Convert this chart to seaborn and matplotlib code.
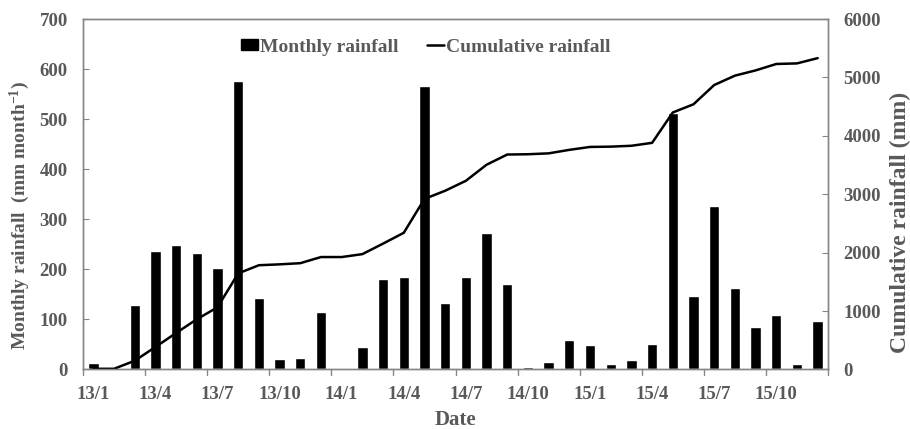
import matplotlib
matplotlib.use("Agg")
import matplotlib.pyplot as plt
import seaborn as sns
import numpy as np
import pandas as pd
from matplotlib.ticker import FixedLocator, MultipleLocator
from matplotlib.lines import Line2D
from matplotlib.patches import Patch

months = [f"{y}/{m}" for y in (13, 14, 15) for m in range(1, 13)]
monthly = [12, 0, 128, 236, 249, 233, 203, 576, 143, 20, 23, 115,
           0, 44, 180, 184, 567, 133, 185, 273, 171, 4, 14, 58,
           49, 10, 18, 50, 513, 147, 326, 163, 85, 108, 10, 96]
cumulative = [12, 12, 150, 385, 625, 860, 1065, 1645, 1785, 1800, 1820, 1925,
              1925, 1975, 2155, 2340, 2920, 3060, 3230, 3505, 3680, 3685, 3700, 3760,
              3810, 3815, 3830, 3880, 4400, 4540, 4870, 5030, 5120, 5230, 5240, 5330]
tick_labels = ["13/1", "13/4", "13/7", "13/10", "14/1", "14/4", "14/7",
               "14/10", "15/1", "15/4", "15/7", "15/10"]

sns.set_style("white")
plt.rcParams['font.family'] = ['Liberation Serif', 'DejaVu Serif']
plt.rcParams['font.weight'] = 'bold'
plt.rcParams['mathtext.fontset'] = 'custom'
plt.rcParams['mathtext.rm'] = 'Liberation Serif:bold'
plt.rcParams['mathtext.default'] = 'rm'

grey = "#595959"
spine_grey = "#868686"

df = pd.DataFrame({"month": months, "monthly": monthly,
                   "idx": np.arange(len(months)), "cum": cumulative})

fig = plt.figure(figsize=(9.1, 4.29), dpi=100)
ax = fig.add_axes([0.0912, 0.1387, 0.8187, 0.8170])
sns.barplot(data=df, x="month", y="monthly", color="black", width=0.5,
            saturation=1, ax=ax, order=months)
ax.set_xlim(-0.5, len(months) - 0.5)
ax.set_ylim(0, 700)
ax.yaxis.set_major_locator(MultipleLocator(100))

ax2 = ax.twinx()
sns.lineplot(data=df, x="idx", y="cum", color="black", lw=1.8, ax=ax2)
ax2.set_ylim(0, 6000)
ax2.yaxis.set_major_locator(MultipleLocator(1000))
ax2.set_xlim(-0.5, len(months) - 0.5)

# x ticks: labels at category centres, marks at boundaries
ax.set_xticks(np.arange(0, len(months), 3))
ax.set_xticklabels(tick_labels)
ax.tick_params(axis="x", which="major", length=0, pad=12)
ax.xaxis.set_minor_locator(FixedLocator(np.arange(-0.5, len(months), 1)))
ax.tick_params(axis="x", which="minor", length=3.5, width=1, color=spine_grey,
               direction="out")
for b in np.arange(-0.5, len(months), 3):
    ax.plot([b, b], [0, -11], color=spine_grey, lw=1, clip_on=False,
            transform=ax.transData)

ax.tick_params(axis="y", direction="in", length=4, color=spine_grey,
               labelsize=13.5, labelcolor=grey, pad=11)
ax2.tick_params(axis="y", direction="in", length=4, color=spine_grey,
                labelsize=13.5, labelcolor=grey, pad=11)
ax.tick_params(axis="x", labelsize=13.5, labelcolor=grey)
for lab in ax.get_xticklabels() + ax.get_yticklabels() + ax2.get_yticklabels():
    lab.set_fontweight("bold")

for a in (ax, ax2):
    for s in a.spines.values():
        s.set_color(spine_grey)
        s.set_linewidth(1)

ax.set_xlabel("Date", fontsize=15, color=grey, fontweight="bold", labelpad=5)
ax.set_ylabel("Monthly rainfall  (mm month$^{-1}$)", fontsize=14, color=grey,
              fontweight="bold")
ax2.set_ylabel("Cumulative rainfall (mm)", fontsize=17, color=grey,
               fontweight="bold")
ax.yaxis.set_label_coords(-0.068, 0.44)
ax2.yaxis.set_label_coords(1.083, 0.42)

handles = [Patch(facecolor="black", edgecolor="black"),
           Line2D([0], [0], color="black", lw=1.8)]
leg = ax.legend(handles, ["Monthly rainfall", "Cumulative rainfall"],
                loc="center", bbox_to_anchor=(0.46, 0.92), ncol=2,
                frameon=False, fontsize=14, handlelength=0.9,
                handletextpad=0.1, columnspacing=1.45, handleheight=0.5,
                borderpad=0, borderaxespad=0)
for t in leg.get_texts():
    t.set_color(grey)
    t.set_fontweight("bold")

fig.savefig("out.png", dpi=100)
